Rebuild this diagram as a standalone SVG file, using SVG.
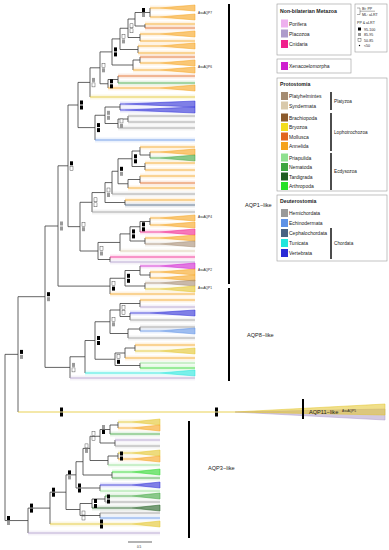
<svg xmlns="http://www.w3.org/2000/svg" width="389" height="550" viewBox="0 0 389 550">
<defs><style>
text{font-family:"Liberation Sans",Arial,sans-serif;fill:#222}
.e{fill:none;stroke:#3c3c3c;stroke-width:.8}
.lf path{fill:none;stroke:currentColor;stroke-width:.8}
.lf polygon{fill:currentColor;fill-opacity:.55;stroke:currentColor;stroke-width:.5}
.lf rect{fill:currentColor;opacity:.13}
.an{color:#f5a21c}.mo{color:#e2641e}.ne{color:#3ea63e}.ve{color:#2b2bd6}.gr{color:#9a9a9a}.ec{color:#5f92e6}.cn{color:#f0208c}.pl{color:#a58c72}.sy{color:#d9c9aa}.xe{color:#cf1fcf}.br{color:#e3c52a}.ar{color:#28d628}.pr{color:#8fe08f}.tu{color:#22e6dc}.ce{color:#4a6282}.ta{color:#1f5c1f}.po{color:#eeb0ee}.pc{color:#ae9ccb}.bp{color:#8b5a2b}
.k{fill:#000}.g{fill:#9a9a9a}.w{fill:#fff;stroke:#333;stroke-width:.4}
.bx{fill:#fff;stroke:#9a9a9a;stroke-width:.6}
.lt{font-size:5px}.lh{font-size:5.2px;font-weight:bold}
.gt{font-size:4.7px}
.st{font-size:3.6px}
.cl{font-size:5.6px}
.bar{stroke:#000;stroke-width:2}
.br2{stroke:#000;stroke-width:1.4}
.al{font-size:3.2px}
</style></defs>

<g id="connectors">
<path class="e" d="M150,8V17M145,24V28M150,12.5H135V26H145M140,34V41M135,19H128V37.5H140M138,46V53M128,28.25H120V49.5H138M140,57V63M140,60H133V70M120,38.9H112V65H133M118,76V83M118,79.5H108V88M112,51.9H100V83.75H108M100,67.8H90V97"/>
<path class="e" d="M120,104V110M128,116V122M128,119H118V128M120,107H105V123.5H118M105,115.25H95V140M90,82.4H78V127.6H95"/>
<path class="e" d="M150,152V158M140,147V155H150M145,163V170M140,151H132V166.5H145M140,176V183M140,179.5H128V188M132,158.75H118V183.75H128M118,171.25H112V194M125,200V205M112,182.6H105V202.5H125M105,192.55H92V212"/>
<path class="e" d="M150,218V225M150,221.5H140V232M145,238V244M140,226.75H130V241H145M130,233.9H120V251M110,257V262M120,242.45H98V259.5H110M92,202.3H80V251H98M78,105H68V226.65H80"/>
<path class="e" d="M150,272V278M140,266V275H150M145,283V289M140,270.5H125V286H145M125,278.25H110V294M68,165.8H58V286.1H110"/>
<path class="e" d="M140,300V307M130,313V320M140,303.5H120V316.5H130M140,327V331M140,329H128V338M120,310H110V333.5H128M135,345V351M135,348H125V358M140,363V368M125,353H115V365.5H140M110,321.75H95V359.25H115M95,340.5H85V373M85,356.75H70V378M58,226H45V367.4H70M45,296.7H18V412M18,354.35H5V520.55H28"/>
<path class="e" d="M118,422V428M118,425H110V434M115,440V446M110,429.5H100V443H115M118,453V459M118,456H108V465M100,436.25H90V460.5H108M112,472V478M90,448.4H83V475H112M100,485V491M83,461.7H76V488H100M105,496V502M105,499H92V508M100,513V518M92,503.5H80V515.5H100M76,474.85H66V509.5H80M66,492.2H50V524M50,508.1H28V533"/>
</g>

<g id="leaves">
<g id="l1" class="lf an"><rect x="150" y="5.5" width="45" height="5"/><path d="M150,8H160"/><polygon points="160,8 195,5 195,11"/></g>
<g id="l2" class="lf an"><rect x="150" y="14.5" width="45" height="5"/><path d="M150,17H160"/><polygon points="160,17 195,14 195,20"/></g>
<g id="l3" class="lf an"><rect x="145" y="21.5" width="50" height="5"/><path d="M145,24H195"/></g>
<g id="l4" class="lf mo"><rect x="145" y="25.5" width="50" height="5"/><path d="M145,28H195"/></g>
<g id="l5" class="lf an"><rect x="140" y="31.5" width="55" height="5"/><path d="M140,34H160"/><polygon points="160,34 195,31 195,37"/></g>
<g id="l6" class="lf an"><rect x="140" y="38.5" width="55" height="5"/><path d="M140,41H195"/></g>
<g id="l7" class="lf an"><rect x="138" y="43.5" width="57" height="5"/><path d="M138,46H160"/><polygon points="160,46 195,43 195,49"/></g>
<g id="l8" class="lf an"><rect x="138" y="50.5" width="57" height="5"/><path d="M138,53H195"/></g>
<g id="l9" class="lf mo"><rect x="140" y="54.5" width="55" height="5"/><path d="M140,57H195"/></g>
<g id="l10" class="lf an"><rect x="140" y="60.5" width="55" height="5"/><path d="M140,63H160"/><polygon points="160,63 195,60 195,66"/></g>
<g id="l11" class="lf an"><rect x="133" y="67.5" width="62" height="5"/><path d="M133,70H160"/><polygon points="160,70 195,67 195,73"/></g>
<g id="l12" class="lf mo"><rect x="118" y="73.5" width="77" height="5"/><path d="M118,76H195"/></g>
<g id="l13" class="lf ne"><rect x="118" y="80.5" width="77" height="5"/><path d="M118,83H195"/></g>
<g id="l14" class="lf an"><rect x="108" y="85.5" width="87" height="5"/><path d="M108,88H160"/><polygon points="160,88 195,85 195,91"/></g>
<g id="l15" class="lf br"><rect x="90" y="94.5" width="105" height="5"/><path d="M90,97H195"/></g>
<g id="l16" class="lf ve"><rect x="120" y="101.5" width="75" height="5"/><path d="M120,104H125"/><polygon points="125,104 195,101 195,107"/></g>
<g id="l17" class="lf ve"><rect x="120" y="107.5" width="75" height="5"/><path d="M120,110H125"/><polygon points="125,110 195,107 195,113"/></g>
<g id="l18" class="lf gr"><rect x="128" y="113.5" width="67" height="5"/><path d="M128,116H195"/></g>
<g id="l19" class="lf gr"><rect x="128" y="119.5" width="67" height="5"/><path d="M128,122H195"/></g>
<g id="l20" class="lf gr"><rect x="118" y="125.5" width="77" height="5"/><path d="M118,128H195"/></g>
<g id="l21" class="lf ec"><rect x="95" y="137.5" width="100" height="5"/><path d="M95,140H195"/></g>
<g id="l22" class="lf an"><rect x="140" y="144.5" width="55" height="5"/><path d="M140,147H195"/></g>
<g id="l23" class="lf an"><rect x="150" y="149.5" width="45" height="5"/><path d="M150,152H160"/><polygon points="160,152 195,149 195,155"/></g>
<g id="l24" class="lf ne"><rect x="150" y="155.5" width="45" height="5"/><path d="M150,158H160"/><polygon points="160,158 195,155 195,161"/></g>
<g id="l25" class="lf an"><rect x="145" y="160.5" width="50" height="5"/><path d="M145,163H195"/></g>
<g id="l26" class="lf an"><rect x="145" y="167.5" width="50" height="5"/><path d="M145,170H195"/></g>
<g id="l27" class="lf an"><rect x="140" y="173.5" width="55" height="5"/><path d="M140,176H195"/></g>
<g id="l28" class="lf mo"><rect x="140" y="180.5" width="55" height="5"/><path d="M140,183H195"/></g>
<g id="l29" class="lf an"><rect x="128" y="185.5" width="67" height="5"/><path d="M128,188H195"/></g>
<g id="l30" class="lf gr"><rect x="112" y="191.5" width="83" height="5"/><path d="M112,194H195"/></g>
<g id="l31" class="lf an"><rect x="125" y="197.5" width="70" height="5"/><path d="M125,200H195"/></g>
<g id="l32" class="lf ce"><rect x="125" y="202.5" width="70" height="5"/><path d="M125,205H195"/></g>
<g id="l33" class="lf gr"><rect x="92" y="209.5" width="103" height="5"/><path d="M92,212H195"/></g>
<g id="l34" class="lf an"><rect x="150" y="215.5" width="45" height="5"/><path d="M150,218H160"/><polygon points="160,218 195,215 195,221"/></g>
<g id="l35" class="lf an"><rect x="150" y="222.5" width="45" height="5"/><path d="M150,225H160"/><polygon points="160,225 195,222 195,228"/></g>
<g id="l36" class="lf cn"><rect x="140" y="229.5" width="55" height="5"/><path d="M140,232H160"/><polygon points="160,232 195,229 195,235"/></g>
<g id="l37" class="lf an"><rect x="145" y="235.5" width="50" height="5"/><path d="M145,238H160"/><polygon points="160,238 195,235 195,241"/></g>
<g id="l38" class="lf pl"><rect x="145" y="241.5" width="50" height="5"/><path d="M145,244H160"/><polygon points="160,244 195,241 195,247"/></g>
<g id="l39" class="lf sy"><rect x="120" y="248.5" width="75" height="5"/><path d="M120,251H195"/></g>
<g id="l40" class="lf cn"><rect x="110" y="254.5" width="85" height="5"/><path d="M110,257H195"/></g>
<g id="l41" class="lf pc"><rect x="110" y="259.5" width="85" height="5"/><path d="M110,262H195"/></g>
<g id="l42" class="lf xe"><rect x="140" y="263.5" width="55" height="5"/><path d="M140,266H160"/><polygon points="160,266 195,263 195,269"/></g>
<g id="l43" class="lf an"><rect x="150" y="269.5" width="45" height="5"/><path d="M150,272H160"/><polygon points="160,272 195,269 195,275"/></g>
<g id="l44" class="lf an"><rect x="150" y="275.5" width="45" height="5"/><path d="M150,278H160"/><polygon points="160,278 195,275 195,281"/></g>
<g id="l45" class="lf pl"><rect x="145" y="280.5" width="50" height="5"/><path d="M145,283H160"/><polygon points="160,283 195,280 195,286"/></g>
<g id="l46" class="lf br"><rect x="145" y="286.5" width="50" height="5"/><path d="M145,289H160"/><polygon points="160,289 195,286 195,292"/></g>
<g id="l47" class="lf an"><rect x="110" y="291.5" width="85" height="5"/><path d="M110,294H195"/></g>
<g id="l48" class="lf an"><rect x="140" y="297.5" width="55" height="5"/><path d="M140,300H195"/></g>
<g id="l49" class="lf pc"><rect x="140" y="304.5" width="55" height="5"/><path d="M140,307H195"/></g>
<g id="l50" class="lf ve"><rect x="130" y="310.5" width="65" height="5"/><path d="M130,313H150"/><polygon points="150,313 195,310 195,316"/></g>
<g id="l51" class="lf gr"><rect x="130" y="317.5" width="65" height="5"/><path d="M130,320H195"/></g>
<g id="l52" class="lf gr"><rect x="140" y="324.5" width="55" height="5"/><path d="M140,327H195"/></g>
<g id="l53" class="lf ec"><rect x="140" y="328.5" width="55" height="5"/><path d="M140,331H160"/><polygon points="160,331 195,328 195,334"/></g>
<g id="l54" class="lf gr"><rect x="128" y="335.5" width="67" height="5"/><path d="M128,338H195"/></g>
<g id="l55" class="lf an"><rect x="135" y="342.5" width="60" height="5"/><path d="M135,345H195"/></g>
<g id="l56" class="lf br"><rect x="135" y="348.5" width="60" height="5"/><path d="M135,351H160"/><polygon points="160,351 195,348 195,354"/></g>
<g id="l57" class="lf an"><rect x="125" y="355.5" width="70" height="5"/><path d="M125,358H195"/></g>
<g id="l58" class="lf pr"><rect x="140" y="360.5" width="55" height="5"/><path d="M140,363H195"/></g>
<g id="l59" class="lf ar"><rect x="140" y="365.5" width="55" height="5"/><path d="M140,368H195"/></g>
<g id="l60" class="lf tu"><rect x="85" y="370.5" width="110" height="5"/><path d="M85,373H160"/><polygon points="160,373 195,370 195,376"/></g>
<g id="l61" class="lf pc"><rect x="70" y="375.5" width="125" height="5"/><path d="M70,378H195"/></g>
<g id="l-aqp11" class="lf br"><path d="M18,412H235"/><polygon class="pc" points="235,412 385,409 385,420"/><polygon points="235,412 385,404 385,415"/></g>
<g id="l62" class="lf br"><rect x="118" y="419.5" width="42" height="5"/><path d="M118,422H132"/><polygon points="132,422 160,419 160,425"/></g>
<g id="l63" class="lf an"><rect x="118" y="425.5" width="42" height="5"/><path d="M118,428H132"/><polygon points="132,428 160,425 160,431"/></g>
<g id="l64" class="lf ne"><rect x="110" y="431.5" width="50" height="5"/><path d="M110,434H160"/></g>
<g id="l65" class="lf pc"><rect x="115" y="437.5" width="45" height="5"/><path d="M115,440H160"/></g>
<g id="l66" class="lf gr"><rect x="115" y="443.5" width="45" height="5"/><path d="M115,446H160"/></g>
<g id="l67" class="lf br"><rect x="118" y="450.5" width="42" height="5"/><path d="M118,453H132"/><polygon points="132,453 160,450 160,456"/></g>
<g id="l68" class="lf an"><rect x="118" y="456.5" width="42" height="5"/><path d="M118,459H132"/><polygon points="132,459 160,456 160,462"/></g>
<g id="l69" class="lf pr"><rect x="108" y="462.5" width="52" height="5"/><path d="M108,465H160"/></g>
<g id="l70" class="lf ar"><rect x="112" y="469.5" width="48" height="5"/><path d="M112,472H132"/><polygon points="132,472 160,469 160,475"/></g>
<g id="l71" class="lf ne"><rect x="112" y="475.5" width="48" height="5"/><path d="M112,478H160"/></g>
<g id="l72" class="lf ve"><rect x="100" y="482.5" width="60" height="5"/><path d="M100,485H132"/><polygon points="132,485 160,482 160,488"/></g>
<g id="l73" class="lf pr"><rect x="100" y="488.5" width="60" height="5"/><path d="M100,491H160"/></g>
<g id="l74" class="lf ne"><rect x="105" y="493.5" width="55" height="5"/><path d="M105,496H132"/><polygon points="132,496 160,493 160,499"/></g>
<g id="l75" class="lf gr"><rect x="105" y="499.5" width="55" height="5"/><path d="M105,502H160"/></g>
<g id="l76" class="lf ta"><rect x="92" y="505.5" width="68" height="5"/><path d="M92,508H132"/><polygon points="132,508 160,505 160,511"/></g>
<g id="l77" class="lf gr"><rect x="100" y="510.5" width="60" height="5"/><path d="M100,513H160"/></g>
<g id="l78" class="lf ec"><rect x="100" y="515.5" width="60" height="5"/><path d="M100,518H160"/></g>
<g id="l79" class="lf br"><rect x="50" y="521.5" width="110" height="5"/><path d="M50,524H132"/><polygon points="132,524 160,521 160,527"/></g>
<g id="l80" class="lf pc"><rect x="28" y="530.5" width="132" height="5"/><path d="M28,533H160"/></g>
</g>

<g id="support">
<rect class="k" x="142" y="8" width="3" height="4"/><rect class="g" x="142" y="13" width="3" height="4"/>
<rect class="w" x="130" y="23.8" width="3" height="4"/><rect class="w" x="130" y="28.8" width="3" height="4"/>
<rect class="w" x="122" y="34.4" width="3" height="4"/><rect class="g" x="122" y="39.4" width="3" height="4"/>
<rect class="k" x="114" y="47.4" width="3" height="4"/><rect class="k" x="114" y="52.4" width="3" height="4"/>
<rect class="w" x="102" y="63.3" width="3" height="4"/><rect class="g" x="102" y="68.3" width="3" height="4"/>
<rect class="k" x="110" y="79.3" width="3" height="4"/><rect class="k" x="110" y="84.3" width="3" height="4"/>
<rect class="g" x="92" y="77.9" width="3" height="4"/><rect class="w" x="92" y="82.9" width="3" height="4"/>
<rect class="k" x="80" y="100.5" width="3" height="4"/><rect class="k" x="80" y="105.5" width="3" height="4"/>
<rect class="k" x="97" y="123.1" width="3" height="4"/><rect class="k" x="97" y="128.1" width="3" height="4"/>
<rect class="g" x="107" y="110.8" width="3" height="4"/><rect class="g" x="107" y="115.8" width="3" height="4"/>
<rect class="w" x="120" y="119" width="3" height="4"/><rect class="g" x="120" y="124" width="3" height="4"/>
<rect class="k" x="134" y="154.3" width="3" height="4"/><rect class="k" x="134" y="159.3" width="3" height="4"/>
<rect class="k" x="120" y="166.8" width="3" height="4"/><rect class="g" x="120" y="171.8" width="3" height="4"/>
<rect class="w" x="107" y="188" width="3" height="4"/><rect class="g" x="107" y="193" width="3" height="4"/>
<rect class="w" x="94" y="197.8" width="3" height="4"/><rect class="w" x="94" y="202.8" width="3" height="4"/>
<rect class="w" x="82" y="222.2" width="3" height="4"/><rect class="g" x="82" y="227.2" width="3" height="4"/>
<rect class="k" x="70" y="161.3" width="3" height="4"/><rect class="w" x="70" y="166.3" width="3" height="4"/>
<rect class="k" x="142" y="222.3" width="3" height="4"/><rect class="k" x="142" y="227.3" width="3" height="4"/>
<rect class="k" x="132" y="229.4" width="3" height="4"/><rect class="k" x="132" y="234.4" width="3" height="4"/>
<rect class="w" x="100" y="246.5" width="3" height="4"/><rect class="g" x="100" y="251.5" width="3" height="4"/>
<rect class="g" x="60" y="221.5" width="3" height="4"/><rect class="g" x="60" y="226.5" width="3" height="4"/>
<rect class="k" x="127" y="273.8" width="3" height="4"/><rect class="k" x="127" y="278.8" width="3" height="4"/>
<rect class="w" x="112" y="281.6" width="3" height="4"/><rect class="k" x="112" y="286.6" width="3" height="4"/>
<rect class="k" x="47" y="292.2" width="3" height="4"/><rect class="g" x="47" y="297.2" width="3" height="4"/>
<rect class="w" x="122" y="305.5" width="3" height="4"/><rect class="w" x="122" y="310.5" width="3" height="4"/>
<rect class="k" x="97" y="336" width="3" height="4"/><rect class="k" x="97" y="341" width="3" height="4"/>
<rect class="w" x="112" y="317.3" width="3" height="4"/><rect class="g" x="112" y="322.3" width="3" height="4"/>
<rect class="w" x="117" y="354.8" width="3" height="4"/><rect class="k" x="117" y="359.8" width="3" height="4"/>
<rect class="g" x="72" y="362.9" width="3" height="4"/><rect class="w" x="72" y="367.9" width="3" height="4"/>
<rect class="k" x="20" y="349.9" width="3" height="4"/><rect class="g" x="20" y="354.9" width="3" height="4"/>
<rect class="k" x="60" y="407.5" width="3" height="4"/><rect class="k" x="60" y="412.5" width="3" height="4"/>
<rect class="k" x="215" y="407.5" width="3" height="4"/><rect class="k" x="215" y="412.5" width="3" height="4"/>
<rect class="k" x="7" y="516" width="3" height="4"/><rect class="g" x="7" y="521" width="3" height="4"/>
<rect class="k" x="30" y="503.6" width="3" height="4"/><rect class="k" x="30" y="508.6" width="3" height="4"/>
<rect class="k" x="52" y="487.7" width="3" height="4"/><rect class="k" x="52" y="492.7" width="3" height="4"/>
<rect class="k" x="68" y="470.4" width="3" height="4"/><rect class="g" x="68" y="475.4" width="3" height="4"/>
<rect class="w" x="85" y="443.9" width="3" height="4"/><rect class="g" x="85" y="448.9" width="3" height="4"/>
<rect class="w" x="92" y="431.8" width="3" height="4"/><rect class="w" x="92" y="436.8" width="3" height="4"/>
<rect class="g" x="102" y="425" width="3" height="4"/><rect class="k" x="102" y="430" width="3" height="4"/>
<rect class="k" x="120" y="451.5" width="3" height="4"/><rect class="k" x="120" y="456.5" width="3" height="4"/>
<rect class="k" x="78" y="483.5" width="3" height="4"/><rect class="k" x="78" y="488.5" width="3" height="4"/>
<rect class="k" x="94" y="499" width="3" height="4"/><rect class="k" x="94" y="504" width="3" height="4"/>
<rect class="w" x="82" y="511" width="3" height="4"/><rect class="w" x="82" y="516" width="3" height="4"/>
<rect class="k" x="107" y="494.5" width="3" height="4"/><rect class="k" x="107" y="499.5" width="3" height="4"/>
<rect class="k" x="100" y="519.5" width="3" height="4"/><rect class="k" x="100" y="524.5" width="3" height="4"/>
</g>

<g id="seq-labels" class="al">
<text x="198" y="14">AsuAQP7</text>
<text x="198" y="68">AsuAQP6</text>
<text x="198" y="218">AsuAQP4</text>
<text x="198" y="271">AsuAQP2</text>
<text x="198" y="289">AsuAQP1</text>
<text x="342" y="412">AsuAQP5</text>
</g>

<g id="clade-aqp1"><line class="bar" x1="229" y1="4" x2="229" y2="284"/><text class="cl" x="245" y="207">AQP1−like</text></g>
<g id="clade-aqp8"><line class="bar" x1="229" y1="288" x2="229" y2="381"/><text class="cl" x="247" y="337">AQP8−like</text></g>
<g id="clade-aqp11"><line class="bar" x1="303" y1="399" x2="303" y2="419"/><text class="cl" x="309" y="414">AQP11−like</text></g>
<g id="clade-aqp3"><line class="bar" x1="189" y1="421" x2="189" y2="538"/><text class="cl" x="208" y="470">AQP3−like</text></g>

<g id="scale"><line x1="128" y1="542" x2="152" y2="542" style="stroke:#000;stroke-width:.6"/><text x="137" y="548" style="font-size:3px">0.5</text></g>

<g id="legend-nonbilaterian">
<rect class="bx" x="277" y="4" width="74" height="51"/>
<text class="lh" x="280" y="13">Non-bilaterian Metazoa</text>
<rect x="281" y="19.5" width="7" height="8" style="fill:#eeb0ee"/><text class="lt" x="289" y="25.5">Porifera</text>
<rect x="281" y="29.5" width="7" height="8" style="fill:#ae9ccb"/><text class="lt" x="289" y="35.5">Placozoa</text>
<rect x="281" y="40" width="7" height="8" style="fill:#f0208c"/><text class="lt" x="289" y="46">Cnidaria</text>
</g>
<g id="legend-xenacoelomorpha">
<rect class="bx" x="277" y="59" width="74" height="14"/>
<rect x="281" y="62" width="7" height="8" style="fill:#cf1fcf"/><text class="lt" x="289" y="68">Xenacoelomorpha</text>
</g>
<g id="legend-support">
<rect class="bx" x="355" y="4" width="32" height="48"/>
<path d="M357,8H360V14.5H357M360,11.2H375" style="fill:none;stroke:#333;stroke-width:.4"/>
<text class="st" x="362" y="9.8">Bt: PP</text>
<text class="st" x="362" y="15.6">ML: aLRT</text>
<text class="st" x="357" y="24">PP &amp; aLRT</text>
<rect class="k" x="358" y="27.5" width="3" height="3"/><text class="st" x="364" y="30.5">95-100</text>
<rect class="g" x="358" y="33" width="3" height="3"/><text class="st" x="364" y="36">85-95</text>
<rect class="w" x="358" y="38.5" width="3" height="3"/><text class="st" x="364" y="41.5">50-85</text>
<circle cx="359.5" cy="45.5" r=".7" fill="#000"/><text class="st" x="364" y="47">&lt;50</text>
</g>
<g id="legend-protostomia">
<rect class="bx" x="277" y="78" width="110" height="113"/>
<text class="lh" x="280" y="86">Protostomia</text>
<rect x="281" y="92" width="7" height="8" style="fill:#a58c72"/><text class="lt" x="289" y="98">Platyhelmintes</text>
<rect x="281" y="101.5" width="7" height="8" style="fill:#d9c9aa"/><text class="lt" x="289" y="107.5">Syndermata</text>
<rect x="281" y="113.5" width="7" height="8" style="fill:#8b5a2b"/><text class="lt" x="289" y="119.5">Brachiopoda</text>
<rect x="281" y="123" width="7" height="8" style="fill:#f2dc1c"/><text class="lt" x="289" y="129">Bryozoa</text>
<rect x="281" y="132.5" width="7" height="8" style="fill:#e2641e"/><text class="lt" x="289" y="138.5">Mollusca</text>
<rect x="281" y="142" width="7" height="8" style="fill:#f5a21c"/><text class="lt" x="289" y="148">Annelida</text>
<rect x="281" y="153.5" width="7" height="8" style="fill:#8fe08f"/><text class="lt" x="289" y="159.5">Priapulida</text>
<rect x="281" y="163" width="7" height="8" style="fill:#3ea63e"/><text class="lt" x="289" y="169">Nematoda</text>
<rect x="281" y="172.5" width="7" height="8" style="fill:#1f5c1f"/><text class="lt" x="289" y="178.5">Tardigrada</text>
<rect x="281" y="182" width="7" height="8" style="fill:#28e028"/><text class="lt" x="289" y="188">Arthropoda</text>
<line class="br2" x1="331" y1="92" x2="331" y2="110"/><text class="gt" x="334" y="103">Platyzoa</text>
<line class="br2" x1="331" y1="113" x2="331" y2="151"/><text class="gt" x="334" y="134">Lophotrochozoa</text>
<line class="br2" x1="331" y1="153" x2="331" y2="190"/><text class="gt" x="334" y="173">Ecdysozoa</text>
</g>
<g id="legend-deuterostomia">
<rect class="bx" x="277" y="195" width="110" height="66"/>
<text class="lh" x="280" y="203">Deuterostomia</text>
<rect x="281" y="209" width="7" height="8" style="fill:#9a9a9a"/><text class="lt" x="289" y="215">Hemichordata</text>
<rect x="281" y="219" width="7" height="8" style="fill:#5f92e6"/><text class="lt" x="289" y="225">Echinodermata</text>
<rect x="281" y="229" width="7" height="8" style="fill:#4a6282"/><text class="lt" x="289" y="235">Cephalochordata</text>
<rect x="281" y="239" width="7" height="8" style="fill:#22e6dc"/><text class="lt" x="289" y="245">Tunicata</text>
<rect x="281" y="249" width="7" height="8" style="fill:#2b2bd6"/><text class="lt" x="289" y="255">Vertebrata</text>
<line class="br2" x1="331" y1="228" x2="331" y2="259"/><text class="gt" x="334" y="245">Chordata</text>
</g>
</svg>
